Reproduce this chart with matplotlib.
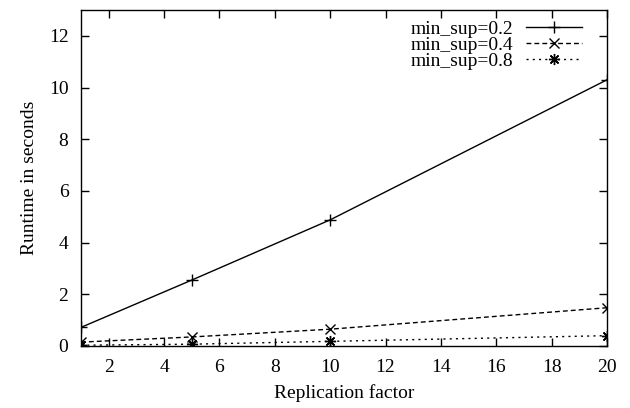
import matplotlib
matplotlib.use("Agg")
import matplotlib.pyplot as plt

# replication factor vs runtime, one series per min_sup
replication = [1, 5, 10, 20]
rt_02 = [0.72, 2.55, 4.88, 10.3]
rt_04 = [0.15, 0.35, 0.65, 1.48]
rt_08 = [0.03, 0.07, 0.18, 0.40]
labels = ["min_sup=0.2", "min_sup=0.4", "min_sup=0.8"]
x_ticks = [2, 4, 6, 8, 10, 12, 14, 16, 18, 20]
y_ticks = [0, 2, 4, 6, 8, 10, 12]

plt.rcParams['font.family'] = ['Liberation Serif', 'DejaVu Serif']
plt.rcParams['font.size'] = 14

fig = plt.figure(figsize=(6.3, 4.08), dpi=100)
ax = fig.add_axes([81 / 630, 62 / 408, 526 / 630, 336 / 408])

ax.plot(replication, rt_02, color='black', lw=1.0, marker='+', ms=8,
        mew=1.0, label=labels[0])
ax.plot(replication, rt_04, color='black', lw=1.0, ls=(0, (3.5, 2.2)), marker='x',
        ms=6.5, mew=1.0, label=labels[1])
ax.plot(replication, rt_08, color='black', lw=1.0, ls=(0, (1.5, 3)),
        marker=(8, 2, 0), ms=8, mew=1.0, label=labels[2])

ax.set_xlim(1, 20)
ax.set_ylim(0, 13)
ax.set_xticks(x_ticks)
ax.set_yticks(y_ticks)
ax.tick_params(direction='in', length=6, width=1.0, top=True, right=True, pad=9)
for s in ax.spines.values():
    s.set_linewidth(1.0)

ax.set_xlabel("Replication factor", labelpad=6)
ax.set_ylabel("Runtime in seconds", labelpad=8)

leg = ax.legend(loc='upper right', frameon=False, markerfirst=False,
                handlelength=2.9, labelspacing=-0.08, borderpad=0,
                borderaxespad=0, handletextpad=0.65,
                bbox_to_anchor=(582 / 630, 388 / 408),
                bbox_transform=fig.transFigure)
for t in leg.get_texts():
    t.set_ha('right')

fig.savefig("out.png", dpi=100)
